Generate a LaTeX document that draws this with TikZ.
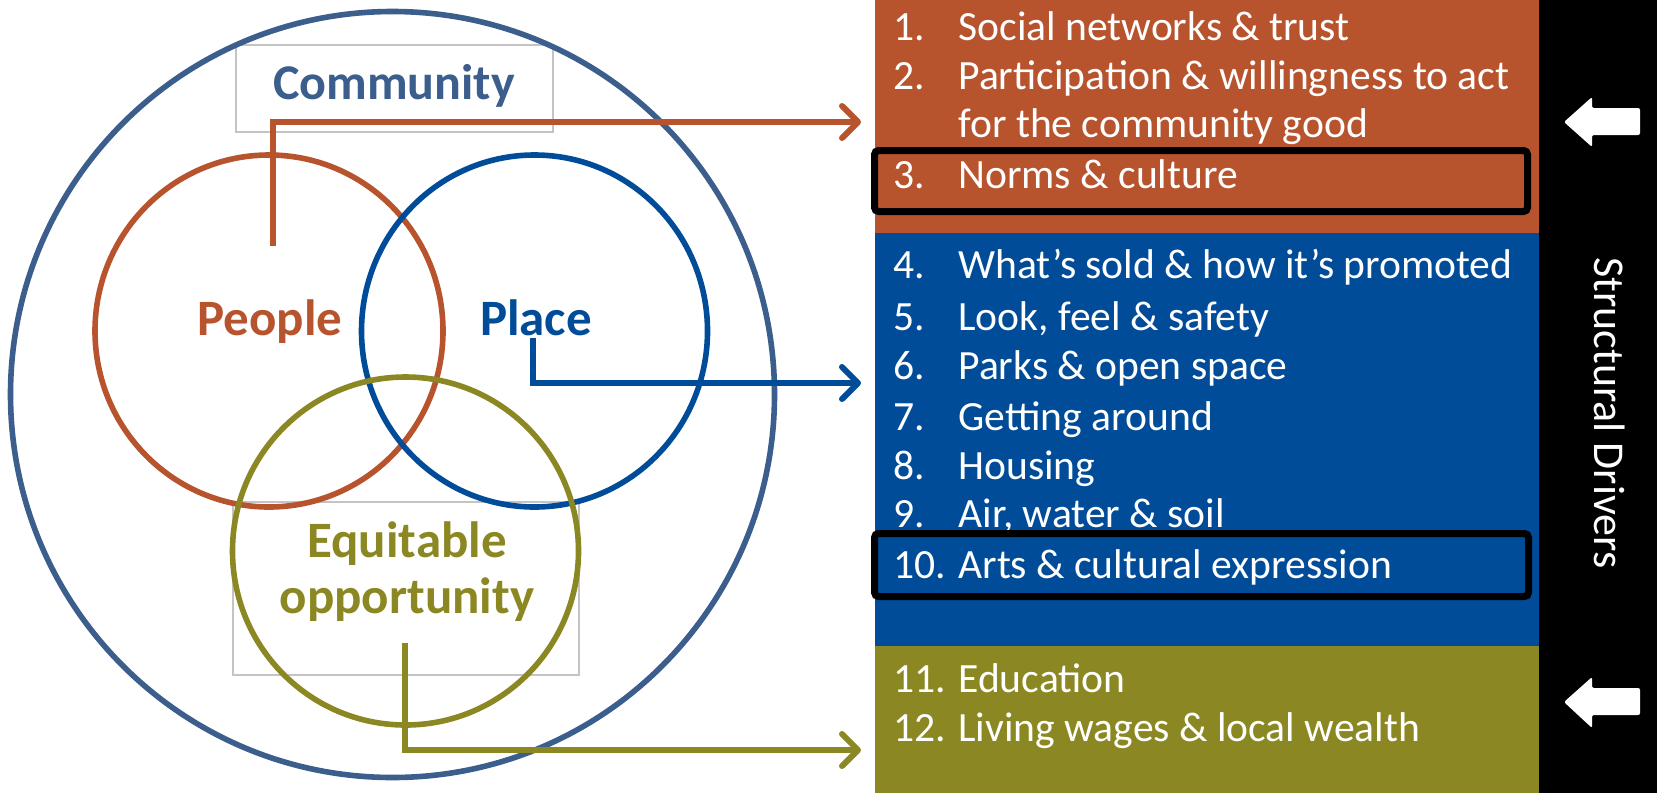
\documentclass[tikz,border=0pt]{standalone}
\usepackage{fontspec}
\setmainfont{Carlito}
\usetikzlibrary{arrows.meta}
\definecolor{rust}{RGB}{183,84,46}
\definecolor{navy}{RGB}{0,76,152}
\definecolor{moss}{RGB}{139,136,35}
\definecolor{steel}{RGB}{59,94,140}
\definecolor{framegray}{RGB}{196,196,196}
\begin{document}
\begin{tikzpicture}[x=0.5pt,y=-0.5pt,
  ring/.style={line width=2.8pt},
  link/.style={line width=3pt,-{Straight Barb[length=8pt,width=16pt,line cap=round,line join=round]}},
  frame/.style={draw=framegray,line width=0.6pt},
  venn/.style={font=\fontsize{25.5}{30}\selectfont\bfseries,anchor=base,inner sep=0pt},
  listnum/.style={text=white,font=\fontsize{20.8}{25}\selectfont,anchor=base west,inner sep=0pt},
  listtext/.style={listnum},
  pick/.style={draw=black,line width=3.5pt,rounded corners=2pt}]
\useasboundingbox (0,0) rectangle (1657,793);

% right panel
\fill[rust] (875,0) rectangle (1539,233);
\fill[navy] (875,233) rectangle (1539,646);
\fill[moss] (875,646) rectangle (1539,793);
\fill[black] (1539,0) rectangle (1657,793);

% text frames
\draw[frame] (236,45) rectangle (553,132);
\draw[frame] (233,502) rectangle (579,675);

% circles
\draw[ring,draw=steel] (392.5,394.5) ellipse [x radius=191pt, y radius=191.5pt];
\draw[ring,draw=rust] (269,331) ellipse [x radius=87pt, y radius=88pt];
\draw[ring,draw=navy] (534.5,331) ellipse [x radius=86.5pt, y radius=88pt];
\draw[ring,draw=moss] (405.5,551) ellipse [x radius=86.5pt, y radius=87pt];

\node[venn,text=steel,font=\fontsize{25}{30}\selectfont\bfseries] (community) at (394,99) {Community};
\node[venn,text=rust] (people) at (270,335) {People};
\node[venn,text=navy] (place) at (536,335) {Place};
\node[venn,text=moss] (equitable) at (407,557) {Equitable};
\node[venn,text=moss] (opportunity) at (407,613) {opportunity};

% connectors
\coordinate (peopleStart) at (273,246);
\coordinate (peopleEnd) at (861,122);
\coordinate (placeStart) at (533,338);
\coordinate (placeEnd) at (861,383);
\coordinate (equityStart) at (405,643);
\coordinate (equityEnd) at (861,750);
\draw[link,draw=rust] (peopleStart) |- (peopleEnd);
\draw[link,draw=navy] (placeStart) |- (placeEnd);
\draw[link,draw=moss] (equityStart) |- (equityEnd);

% list
\node[listnum] (n1) at (893,40) {1.};
\node[listtext] (t1) at (958,40) {Social networks \& trust};
\node[listnum] (n2) at (893,89) {2.};
\node[listtext] (t2) at (958,89) {Participation \& willingness to act};
\node[listtext] (t2b) at (958,137) {for the community good};
\node[listnum] (n3) at (893,188) {3.};
\node[listtext] (t3) at (958,188) {Norms \& culture};
\node[listnum] (n4) at (893,278) {4.};
\node[listtext] (t4) at (958,278) {What’s sold \& how it’s promoted};
\node[listnum] (n5) at (893,330) {5.};
\node[listtext] (t5) at (958,330) {Look, feel \& safety};
\node[listnum] (n6) at (893,379) {6.};
\node[listtext] (t6) at (958,379) {Parks \& open space};
\node[listnum] (n7) at (893,430) {7.};
\node[listtext] (t7) at (958,430) {Getting around};
\node[listnum] (n8) at (893,479) {8.};
\node[listtext] (t8) at (958,479) {Housing};
\node[listnum] (n9) at (893,527) {9.};
\node[listtext] (t9) at (958,527) {Air, water \& soil};
\node[listnum] (n10) at (893,578) {10.};
\node[listtext] (t10) at (958,578) {Arts \& cultural expression};
\node[listnum] (n11) at (893,692) {11.};
\node[listtext] (t11) at (958,692) {Education};
\node[listnum] (n12) at (893,741) {12.};
\node[listtext] (t12) at (958,741) {Living wages \& local wealth};

% highlights
\draw[pick] (874.5,150.5) rectangle (1527.5,211.5);
\draw[pick] (874.5,533.5) rectangle (1528.5,596.5);

% side strip
\node[rotate=-90,text=white,font=\fontsize{22}{26}\selectfont] (drivers) at (1610,413) {Structural Drivers};
\fill[white,rounded corners=1pt] (1564,122) -- (1592,97) -- (1592,108) -- (1640,108) -- (1640,135) -- (1592,135) -- (1592,147) -- cycle;
\fill[white,rounded corners=1pt] (1564,702) -- (1592,677) -- (1592,688) -- (1640,688) -- (1640,715) -- (1592,715) -- (1592,728) -- cycle;
\end{tikzpicture}
\end{document}
